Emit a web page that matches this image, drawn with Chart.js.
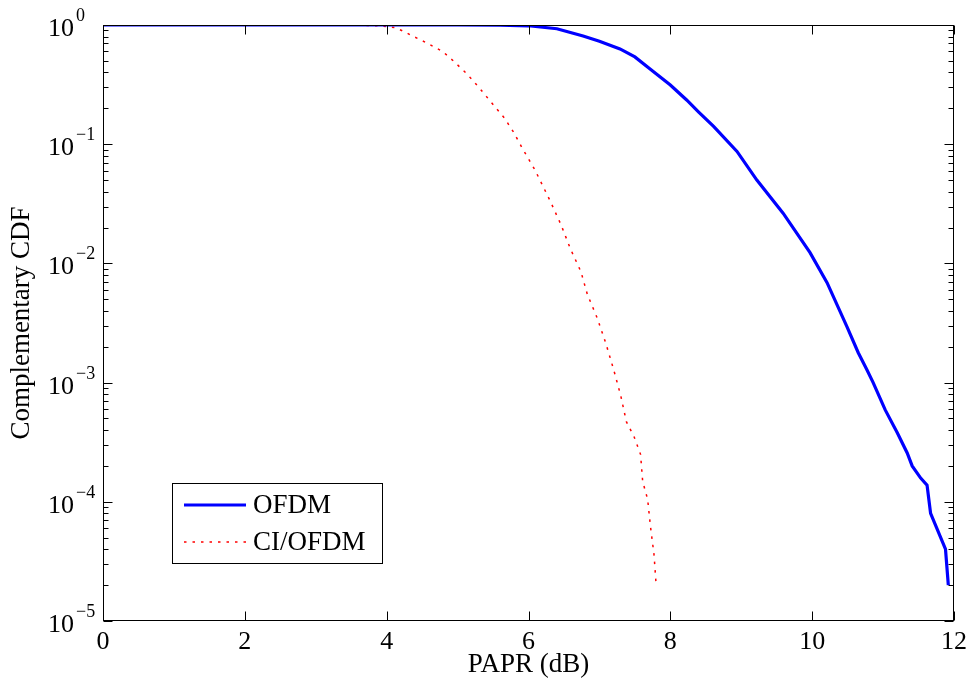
<!DOCTYPE html>
<html>
<head>
<meta charset="utf-8">
<script src="https://cdn.jsdelivr.net/npm/chart.js@4"></script>
<style>
  html, body { margin: 0; padding: 0; background: #fff; }
  #wrap { width: 973px; height: 688px; }
</style>
</head>
<body>
<div id="wrap"><canvas id="ccdf" width="973" height="688"></canvas></div>
<script>
// PAPR (dB) vs complementary CDF, two systems
const ofdmPapr = [0, 2, 4, 5, 5.6, 6.0, 6.4, 6.77, 7.0, 7.29, 7.5, 7.71, 8.0, 8.23, 8.4, 8.61, 8.94, 9.22, 9.59, 9.97,
  10.21, 10.49, 10.65, 10.77, 10.86, 11.03, 11.2, 11.34, 11.41, 11.53, 11.62, 11.67, 11.88, 11.92];
const ofdmCcdf = [1, 1, 1, 1, 0.998, 0.985, 0.93, 0.81, 0.73, 0.63, 0.54, 0.43, 0.314, 0.235, 0.186, 0.141, 0.087, 0.05, 0.0264, 0.0123,
  0.0069, 0.00295, 0.00178, 0.00129, 0.001, 0.00059, 0.00038, 0.000257, 0.0002, 0.000158, 0.000138, 0.00008, 0.00004, 0.00002];

const ciPapr = [0, 2, 3.5, 3.9, 4.12, 4.25, 4.36, 4.46, 4.58, 4.69, 4.79, 4.94, 5.13, 5.30, 5.46, 5.66, 5.79, 5.91,
  6.09, 6.31, 6.46, 6.59, 6.74, 6.83, 6.97, 7.09, 7.20, 7.30, 7.38, 7.49, 7.58, 7.61, 7.68, 7.72, 7.77, 7.80];
const ciCcdf = [1, 1, 0.998, 0.985, 0.95, 0.88, 0.81, 0.76, 0.70, 0.645, 0.60, 0.50, 0.39, 0.30, 0.23, 0.166, 0.126, 0.093,
  0.061, 0.033, 0.021, 0.0133, 0.0085, 0.0055, 0.00347, 0.00214, 0.00129, 0.00078, 0.00047, 0.00035, 0.00025, 0.000148,
  0.000105, 0.000062, 0.000036, 0.00002];

const xTickValues = [0, 2, 4, 6, 8, 10, 12];
const yDecades = [0, -1, -2, -3, -4, -5];

const SERIF = '"Liberation Serif", "Times New Roman", serif';

function toPoints(xs, ys) {
  return xs.map((v, i) => ({ x: v, y: ys[i] }));
}

// axes box, inward ticks, tick labels, titles and legend drawn in MATLAB style
const matlabAxes = {
  id: 'matlabAxes',
  afterDraw(chart) {
    const { ctx, chartArea: a, scales } = chart;
    const xs = scales.x, ys = scales.y;
    const L = Math.round(a.left) + 0.5, R = Math.round(a.right) - 0.5;
    const T = Math.round(a.top) + 0.5, B = Math.round(a.bottom) - 0.5;

    ctx.save();
    ctx.strokeStyle = '#000';
    ctx.lineWidth = 1;
    ctx.strokeRect(L, T, R - L, B - T);

    // x ticks
    ctx.beginPath();
    xTickValues.forEach(v => {
      const px = Math.round(xs.getPixelForValue(v)) + 0.5;
      ctx.moveTo(px, B); ctx.lineTo(px, B - 9);
      ctx.moveTo(px, T); ctx.lineTo(px, T + 9);
    });
    // y ticks, decades plus log minors
    yDecades.forEach(e => {
      const py = Math.round(ys.getPixelForValue(Math.pow(10, e))) + 0.5;
      ctx.moveTo(L, py); ctx.lineTo(L + 9, py);
      ctx.moveTo(R, py); ctx.lineTo(R - 9, py);
    });
    yDecades.slice(1).forEach(e => {
      for (let m = 2; m <= 9; m++) {
        const py = Math.round(ys.getPixelForValue(m * Math.pow(10, e))) + 0.5;
        ctx.moveTo(L, py); ctx.lineTo(L + 5, py);
        ctx.moveTo(R, py); ctx.lineTo(R - 5, py);
      }
    });
    ctx.stroke();

    // tick labels
    ctx.fillStyle = '#000';
    ctx.font = '26px ' + SERIF;
    ctx.textAlign = 'center';
    ctx.textBaseline = 'alphabetic';
    xTickValues.forEach(v => {
      ctx.fillText(String(v), xs.getPixelForValue(v), 649);
    });

    ctx.textAlign = 'left';
    yDecades.forEach(e => {
      const py = ys.getPixelForValue(Math.pow(10, e));
      ctx.font = '26px ' + SERIF;
      ctx.fillText('10', 48, py + 11);
      const w = ctx.measureText('10').width;
      ctx.font = '18px ' + SERIF;
      ctx.fillText(e === 0 ? '0' : '\u2212' + (-e), 48 + w + 2, py - 4);
    });

    // axis titles
    ctx.font = '27px ' + SERIF;
    ctx.textAlign = 'center';
    ctx.textBaseline = 'middle';
    ctx.fillText('PAPR (dB)', (a.left + a.right) / 2, 665);
    ctx.save();
    ctx.translate(22, (a.top + a.bottom) / 2);
    ctx.rotate(-Math.PI / 2);
    ctx.fillText('Complementary CDF', 0, 0);
    ctx.restore();

    // legend
    const box = { left: 172.5, top: 483.5, right: 382.5, bottom: 563.5 };
    ctx.fillStyle = '#fff';
    ctx.fillRect(box.left, box.top, box.right - box.left, box.bottom - box.top);
    ctx.strokeStyle = '#000';
    ctx.lineWidth = 1;
    ctx.setLineDash([]);
    ctx.strokeRect(box.left, box.top, box.right - box.left, box.bottom - box.top);
    const rows = [505, 542];
    chart.data.datasets.forEach((ds, i) => {
      const y = rows[i];
      ctx.beginPath();
      ctx.strokeStyle = ds.borderColor;
      ctx.lineWidth = ds.borderWidth;
      ctx.setLineDash(ds.borderDash || []);
      ctx.moveTo(184, y); ctx.lineTo(246, y);
      ctx.stroke();
      ctx.setLineDash([]);
      ctx.fillStyle = '#000';
      ctx.font = '27px ' + SERIF;
      ctx.textAlign = 'left';
      ctx.textBaseline = 'middle';
      ctx.fillText(ds.label, 253, y + 1);
    });
    ctx.restore();
  }
};

new Chart(document.getElementById('ccdf'), {
  type: 'line',
  data: {
    datasets: [
      {
        label: 'OFDM',
        data: toPoints(ofdmPapr, ofdmCcdf),
        borderColor: '#0000ff',
        borderWidth: 3.2,
        pointRadius: 0,
        tension: 0,
        fill: false
      },
      {
        label: 'CI/OFDM',
        data: toPoints(ciPapr, ciCcdf),
        borderColor: '#ff0000',
        borderWidth: 1.5,
        borderDash: [2.5, 6],
        pointRadius: 0,
        tension: 0,
        fill: false
      }
    ]
  },
  options: {
    responsive: false,
    animation: false,
    devicePixelRatio: 1,
    layout: { padding: { top: 25, right: 19, left: 0, bottom: 0 } },
    plugins: { legend: { display: false }, tooltip: { enabled: false } },
    scales: {
      x: {
        type: 'linear', min: 0, max: 12,
        grid: { display: false },
        border: { display: false },
        ticks: { display: false },
        afterFit: s => { s.height = 67; }
      },
      y: {
        type: 'logarithmic', min: 1e-5, max: 1,
        grid: { display: false },
        border: { display: false },
        ticks: { display: false },
        afterFit: s => { s.width = 103; }
      }
    }
  },
  plugins: [matlabAxes]
});
</script>
</body>
</html>
